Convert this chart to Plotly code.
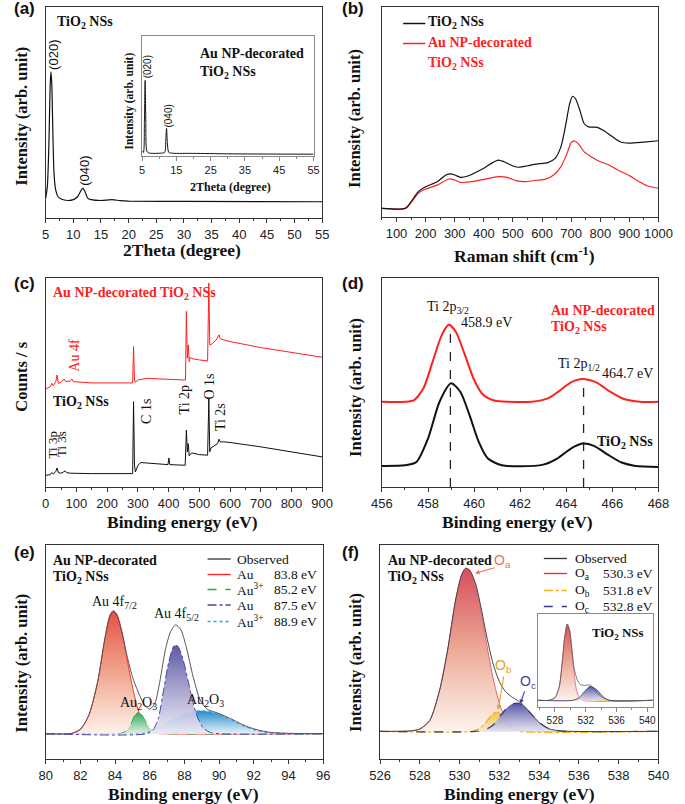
import plotly.graph_objects as go

W, H = 685, 804
SERIF = "Liberation Serif"
SANS = "Liberation Sans"

# ---------------- (a) XRD ----------------
a_2theta = [5.0, 5.3, 5.6, 5.8, 5.95, 6.1, 6.3, 6.5, 6.8, 7.2, 7.8, 9.0, 10.0, 10.8, 11.3, 11.7, 12.1, 12.6, 13.2, 15, 17, 18.5, 20, 30, 55]
a_int = [9.4, 15.0, 37.0, 62.2, 69.3, 63.8, 40.2, 21.3, 13.4, 10.2, 9.0, 8.3, 8.7, 10.2, 12.6, 14.2, 12.6, 9.4, 8.7, 8.3, 8.7, 8.2, 8.0, 7.9, 7.7]
a_in_2theta = [5.0, 5.4, 5.7, 5.9, 6.1, 6.4, 7.0, 10.0, 11.6, 11.9, 12.15, 12.4, 12.8, 14, 20, 30, 55]
a_in_int = [4, 3, 30, 63, 30, 4, 2.5, 2.3, 3, 12, 23, 10, 3, 2.3, 2.2, 1.8, 1.5]

# ---------------- (b) Raman ----------------
b_shift_k = [50, 130, 150, 175, 200, 240, 270, 285, 300, 320, 345, 370, 400, 430, 450, 470, 500, 520, 550, 580, 620, 645, 665, 680, 695, 705, 715, 730, 745, 760, 790, 810, 840, 870, 900, 950, 1000]
b_tio2 = [4.1, 4.1, 7.3, 12.1, 14.4, 16.8, 20.0, 20.5, 20.0, 18.9, 19.5, 21.1, 23.2, 25.9, 27.1, 26.3, 24.3, 23.7, 24.4, 25.2, 25.9, 27.9, 33.5, 42.9, 54.0, 57.5, 56.3, 50.8, 44.4, 42.9, 42.7, 41.3, 38.4, 35.7, 35.2, 35.7, 36.3]
b_shift_r = [50, 130, 150, 175, 200, 240, 280, 300, 320, 360, 400, 450, 480, 510, 540, 580, 610, 640, 665, 685, 700, 712, 725, 745, 770, 800, 830, 860, 900, 930, 960, 1000]
b_au = [4.1, 4.1, 6.8, 11.3, 13.3, 15.2, 18.1, 17.6, 16.5, 16.8, 17.9, 19.2, 18.9, 17.3, 16.8, 17.5, 17.9, 20.0, 24.0, 30.0, 35.4, 36.2, 34.8, 31.0, 28.6, 26.3, 24.8, 22.4, 19.7, 17.1, 14.9, 13.7]

# ---------------- (c) XPS survey ----------------
c_be_k = [0, 15, 20, 25, 33, 37, 41, 50, 58, 63, 68, 80, 150, 283, 286, 289, 292, 300, 310, 350, 398, 401, 404, 454, 458, 461, 464, 467, 475, 500, 527, 531, 534, 538, 550, 560, 564, 568, 580, 600, 700, 800, 900]
c_tio2 = [5.6, 5.9, 6.9, 6.2, 7.5, 9.1, 6.9, 6.6, 7.2, 7.7, 6.9, 6.6, 6.4, 6.4, 40.8, 10.4, 7.2, 10.4, 11.7, 11.2, 10.7, 13.9, 10.7, 10.4, 27.2, 16.8, 20.8, 14.9, 16.3, 15.5, 15.2, 42.1, 16.8, 18.7, 19.7, 20.8, 22.9, 21.6, 21.6, 21.3, 19.2, 16.8, 14.4]
c_be_r = [0, 15, 20, 25, 33, 37, 41, 50, 60, 65, 80, 85, 90, 150, 283, 286, 289, 292, 300, 330, 450, 455, 458, 461, 464, 467, 470, 480, 500, 527, 531, 534, 540, 555, 564, 568, 580, 600, 700, 800, 900]
c_au = [46.9, 48.0, 49.6, 48.5, 50.4, 53.6, 49.6, 50.1, 51.7, 50.4, 50.7, 51.7, 50.4, 49.8, 49.8, 67.2, 51.2, 50.1, 51.2, 52.0, 51.2, 51.2, 84.0, 61.6, 68.0, 60.0, 61.9, 61.3, 60.8, 60.3, 97.6, 68.0, 68.3, 70.4, 72.8, 70.9, 70.4, 69.6, 66.7, 64.5, 62.1]

# ---------------- (d) Ti 2p ----------------
d_be_r = [456, 457, 457.4, 457.8, 458.2, 458.6, 458.9, 459.2, 459.6, 460.0, 460.4, 460.9, 461.5, 462.5, 463.2, 463.7, 464.2, 464.7, 465.3, 465.9, 466.5, 467.2, 468]
d_au = [40.8, 40.8, 41.6, 47.2, 60.0, 72.8, 77.6, 74.4, 63.2, 51.2, 44.0, 41.3, 40.8, 40.8, 42.4, 46.0, 50.1, 51.7, 50.1, 45.6, 42.1, 40.8, 40.8]
d_be_k = [456, 457, 457.5, 458.0, 458.5, 459.0, 459.4, 459.8, 460.2, 460.6, 461.2, 462.0, 463.0, 463.6, 464.2, 464.7, 465.2, 465.8, 466.4, 467, 468]
d_tio2 = [10.1, 10.4, 12.0, 23.2, 40.8, 49.6, 45.6, 34.4, 21.6, 13.6, 10.4, 9.9, 10.7, 13.6, 18.4, 20.8, 19.7, 15.5, 11.7, 10.1, 9.6]
d_peak_be = [458.97, 464.75]
d_peak_top = [77.6, 51.7]

# ---------------- (e) Au 4f ----------------
e_be_obs = [80, 81.5, 82, 82.5, 83, 83.4, 83.7, 83.9, 84.1, 84.4, 84.7, 85.0, 85.4, 85.7, 86.0, 86.3, 86.6, 86.9, 87.2, 87.5, 87.8, 88.1, 88.5, 88.9, 89.3, 89.8, 90.3, 90.8, 91.5, 92.3, 93.0, 94, 96]
e_obs = [0, 0.2, 2.2, 8.9, 24.4, 43.9, 54.7, 57.1, 55.5, 47.0, 36.1, 26.7, 18.2, 13.5, 11.5, 14.3, 25.2, 39.2, 47.7, 50.9, 48.5, 40.7, 26.7, 15.9, 11.5, 10.0, 8.4, 6.5, 3.7, 1.6, 0.6, 0.2, 0]
e_be_au0 = [80, 81.5, 82, 82.5, 83, 83.4, 83.7, 83.9, 84.1, 84.4, 84.7, 85.0, 85.3, 85.6, 85.9, 86.3, 86.8, 96]
e_au0 = [0, 0.2, 1.9, 8.9, 24.4, 43.9, 55.5, 57.5, 56.0, 47.7, 34.5, 22.1, 12.0, 5.8, 2.2, 0.3, 0, 0]
e_be_au3a = [80, 84.2, 84.6, 84.9, 85.1, 85.3, 85.5, 85.8, 86.1, 86.5, 87, 96]
e_au3a = [0, 0, 1.1, 4.2, 8.1, 10.0, 9.2, 5.3, 1.9, 0.3, 0, 0]
e_be_au0b = [80, 85.8, 86.2, 86.5, 86.8, 87.1, 87.4, 87.6, 87.9, 88.2, 88.5, 88.8, 89.1, 89.5, 90, 96]
e_au0b = [0, 0, 1.9, 7.3, 20.5, 33.7, 41.1, 41.1, 35.3, 25.2, 14.3, 6.8, 2.6, 0.6, 0, 0]
e_be_au3b = [80, 85.5, 86, 86.5, 87, 87.5, 88, 88.5, 88.9, 89.4, 90, 90.5, 91, 91.5, 92, 92.6, 93.5, 94.5, 96]
e_au3b = [0, 0, 0.9, 3.0, 5.3, 7.2, 9.2, 10.4, 10.7, 10.4, 9.2, 7.3, 5.3, 3.4, 1.9, 0.8, 0.2, 0, 0]
e_leg_names = ["Observed", "Au", "Au<sup>3+</sup>", "Au", "Au<sup>3+</sup>"]
e_leg_vals = ["", "83.8 eV", "85.2 eV", "87.5 eV", "88.9 eV"]

# ---------------- (f) O 1s ----------------
f_be_obs = [526, 527.5, 528.0, 528.5, 529.0, 529.4, 529.8, 530.1, 530.3, 530.5, 530.8, 531.1, 531.4, 531.7, 532.0, 532.3, 532.6, 532.9, 533.2, 533.6, 534.0, 534.5, 535.2, 540]
f_obs = [0, 0.2, 1.1, 5.1, 19.4, 38.1, 61.4, 73.1, 76.2, 75.4, 69.2, 56.8, 42.8, 31.1, 23.3, 18.7, 16.3, 14.5, 12.4, 8.2, 4.2, 1.2, 0.2, 0]
f_be_oa = [526, 527.5, 528.0, 528.5, 529.0, 529.4, 529.8, 530.1, 530.3, 530.5, 530.8, 531.1, 531.4, 531.7, 532.0, 532.3, 532.7, 533.2, 534, 540]
f_oa = [0, 0.2, 1.1, 5.1, 19.4, 38.1, 61.4, 73.1, 76.2, 75.4, 68.4, 55.2, 38.9, 24.1, 13.2, 6.2, 2.0, 0.3, 0, 0]
f_be_ob = [526, 530.6, 531.0, 531.3, 531.6, 531.85, 532.1, 532.4, 532.7, 533.0, 540]
f_ob = [0, 0, 1.4, 3.9, 7.6, 9.2, 7.8, 3.9, 1.1, 0, 0]
f_be_oc = [526, 530.8, 531.3, 531.7, 532.0, 532.3, 532.6, 532.9, 533.2, 533.6, 534.0, 534.4, 534.9, 535.5, 540]
f_oc = [0, 0, 0.8, 3.1, 6.7, 10.1, 12.6, 13.2, 12.1, 8.2, 4.2, 1.7, 0.3, 0, 0]
f_leg_names = ["Observed", "O<sub>a</sub>", "O<sub>b</sub>", "O<sub>c</sub>"]
f_leg_vals = ["", "530.3 eV", "531.8 eV", "532.8 eV"]

# inset (f): TiO2 NSs
fi_be_obs = [525.8, 527.2, 528.0, 528.55, 528.93, 529.27, 529.6, 529.9, 530.2, 530.5, 530.9, 531.3, 531.8, 532.5, 533.0, 533.6, 534.3, 535.1, 540.7]
fi_obs = [0, 0, 2.9, 14.4, 39.6, 68.3, 82, 75.5, 54, 34, 22, 17, 16, 16.5, 13, 7, 2.5, 0, 0]
fi_be_oa = [525.8, 527.2, 528.0, 528.55, 528.93, 529.27, 529.6, 529.9, 530.2, 530.5, 530.8, 531.16, 531.6, 540.7]
fi_oa = [0, 0, 2.9, 14.4, 39.6, 68.3, 82, 75.5, 54, 28.8, 10.8, 2.9, 0, 0]
fi_be_ob = [525.8, 530.7, 531.6, 532.2, 533.0, 533.8, 540.7]
fi_ob = [0, 0, 2.9, 4.3, 1.8, 0, 0]
fi_be_oc = [525.8, 530.3, 531.16, 531.8, 532.6, 533.5, 534.3, 535.1, 540.7]
fi_oc = [0, 0, 2.9, 9, 15.1, 10.8, 3.6, 0, 0]


def dx(x0, x1):
    return [x0 / W, x1 / W]


def dy(y0, y1):
    return [1 - y1 / H, 1 - y0 / H]


def xax(dom, rng, dtick, minor, anchor, tick0=None, size=13, lc="#333"):
    d = dict(domain=dom, range=rng, dtick=dtick, showline=True, mirror=True, linecolor=lc,
             linewidth=1, ticks="outside", ticklen=4, tickwidth=1, tickcolor=lc,
             showgrid=False, zeroline=False, anchor=anchor,
             tickfont=dict(family=SANS, size=size, color="#222"),
             minor=dict(dtick=minor, ticks="outside", ticklen=2, tickcolor=lc))
    if tick0 is not None:
        d["tick0"] = tick0
    return d


def yax(dom, rng, anchor, lc="#333"):
    return dict(domain=dom, range=rng, showline=True, mirror=True, linecolor=lc, linewidth=1,
                showticklabels=False, ticks="", showgrid=False, zeroline=False, anchor=anchor)


fig = go.Figure()


def line(x, y, xa, ya, color, width=1.2, dash="solid", shape="spline", fill=None, grad=None):
    kw = dict(x=x, y=y, mode="lines", xaxis=xa, yaxis=ya,
              line=dict(color=color, width=width, dash=dash, shape=shape, smoothing=0.7 if shape == "spline" else None),
              hoverinfo="skip")
    if fill:
        kw["fill"] = fill
        kw["fillgradient"] = dict(type="vertical", colorscale=grad)
    fig.add_trace(go.Scatter(**kw))


# (a)
line(a_2theta, a_int, "x", "y", "#111", 1.2)
line(a_in_2theta, a_in_int, "x2", "y2", "#111", 1.0)
# (b)
line(b_shift_r, b_au, "x3", "y3", "#ff2020", 1.2)
line(b_shift_k, b_tio2, "x3", "y3", "#111", 1.2)
# (c)
line(c_be_r, c_au, "x4", "y4", "#ff2020", 1.0, shape="linear")
line(c_be_k, c_tio2, "x4", "y4", "#111", 1.0, shape="linear")
# (d)
line(d_be_r, d_au, "x5", "y5", "#ff2020", 2.0)
line(d_be_k, d_tio2, "x5", "y5", "#111", 2.0)
for bx, top in zip(d_peak_be, d_peak_top):
    line([bx, bx], [0, top], "x5", "y5", "#222", 1.3, dash="dash", shape="linear")

# (e)
red_g = [[0, "rgba(253,240,232,0.9)"], [0.5, "rgba(240,160,135,0.95)"], [1, "rgba(228,80,70,1)"]]
grn_g = [[0, "rgba(225,242,228,0.9)"], [1, "rgba(45,170,90,1)"]]
blu_g = [[0, "rgba(232,242,250,0.9)"], [1, "rgba(35,140,205,1)"]]
pur_g = [[0, "rgba(236,234,246,0.9)"], [1, "rgba(95,90,165,1)"]]
line(e_be_au0, e_au0, "x6", "y6", "#ff3030", 1.0, fill="tozeroy", grad=red_g)
line(e_be_au3a, e_au3a, "x6", "y6", "#20b040", 1.0, dash="dash", fill="tozeroy", grad=grn_g)
line(e_be_au3b, e_au3b, "x6", "y6", "#20a8e8", 1.2, dash="dot", fill="tozeroy", grad=blu_g)
line(e_be_au0b, e_au0b, "x6", "y6", "#5040a0", 1.0, dash="dashdot", fill="tozeroy", grad=pur_g)
line(e_be_obs, e_obs, "x6", "y6", "#555", 1.0)

# (f)
oa_g = [[0, "rgba(252,242,236,0.9)"], [0.5, "rgba(236,165,145,0.95)"], [1, "rgba(214,78,92,1)"]]
ob_g = [[0, "rgba(250,236,205,0.9)"], [1, "rgba(245,195,60,1)"]]
oc_g = [[0, "rgba(228,228,242,0.9)"], [1, "rgba(85,85,165,1)"]]
line(f_be_oa, f_oa, "x7", "y7", "#e86070", 1.0, fill="tozeroy", grad=oa_g)
line(f_be_ob, f_ob, "x7", "y7", "#f0b020", 1.2, dash="dashdot", fill="tozeroy", grad=ob_g)
line(f_be_oc, f_oc, "x7", "y7", "#303890", 1.2, dash="dash", fill="tozeroy", grad=oc_g)
line(f_be_obs, f_obs, "x7", "y7", "#444", 1.0)
# inset (f)
line(fi_be_oa, fi_oa, "x8", "y8", "#e86070", 0.8, fill="tozeroy", grad=oa_g)
line(fi_be_ob, fi_ob, "x8", "y8", "#f0b020", 0.8, fill="tozeroy", grad=ob_g)
line(fi_be_oc, fi_oc, "x8", "y8", "#303890", 0.8, fill="tozeroy", grad=oc_g)
line(fi_be_obs, fi_obs, "x8", "y8", "#555", 0.8)

layout = dict(
    width=W, height=H, margin=dict(l=0, r=0, t=0, b=0), showlegend=False,
    paper_bgcolor="white", plot_bgcolor="white",
    xaxis=xax(dx(36, 323), [5, 55], 5, 2.5, "y"),
    yaxis=yax(dy(7, 218), [0, 100], "x"),
    xaxis2=xax(dx(136, 314), [5, 55], 10, 5, "y2", tick0=5, size=11, lc="#888"),
    yaxis2=yax(dy(36, 156), [0, 100], "x2", lc="#888"),
    xaxis3=xax(dx(385, 672), [50, 1000], 100, 50, "y3"),
    yaxis3=yax(dy(7, 217), [0, 100], "x3"),
    xaxis4=xax(dx(36, 323), [0, 900], 100, 50, "y4"),
    yaxis4=yax(dy(278, 487), [0, 100], "x4"),
    xaxis5=xax(dx(385, 672), [456, 468], 2, 1, "y5"),
    yaxis5=yax(dy(278, 487), [0, 100], "x5"),
    xaxis6=xax(dx(36, 324), [80, 96], 2, 1, "y6"),
    yaxis6=yax(dy(545, 759), [-11.8, 88.2], "x6"),
    xaxis7=xax(dx(383, 672), [526, 540], 2, 1, "y7"),
    yaxis7=yax(dy(545, 759), [-12.9, 87.1], "x7"),
    xaxis8=xax(dx(547, 666), [525.8, 540.7], 4, 2, "y8", tick0=528, size=10, lc="#888"),
    yaxis8=yax(dy(614, 707), [-7.2, 92.8], "x8", lc="#888"),
)
fig.update_layout(**layout)

ann = []
shapes = []


def T(x, y, s, size=14, color="#111", bold=False, fam=SERIF, anchor="left", angle=0):
    ann.append(dict(x=x / W, y=1 - y / H, xref="paper", yref="paper",
                    text=("<b>" + s + "</b>") if bold else s, showarrow=False,
                    xanchor=anchor, yanchor="middle", textangle=angle,
                    font=dict(family=fam, size=size, color=color)))


def legline(x0, x1, yy, color, dash="solid", width=1.3):
    shapes.append(dict(type="line", xref="paper", yref="paper", x0=x0 / W, x1=x1 / W,
                       y0=1 - yy / H, y1=1 - yy / H, line=dict(color=color, width=width, dash=dash)))


TIO2 = "TiO<sub>2</sub> NSs"
# panel letters
for lab, x, y in [("(a)", 1, 9), ("(b)", 341, 9), ("(c)", 1, 283), ("(d)", 341, 283), ("(e)", 1, 552), ("(f)", 341, 552)]:
    T(x, y, lab, 17, "#111", True, SANS)

# axis titles
XT = 17.5
T(177.5, 250, "2Theta (degree)", XT, bold=True, anchor="center")
T(10, 116, "Intensity (arb. unit)", 16.5, bold=True, anchor="center", angle=-90)
T(228, 187, "2Theta (degree)", 12, bold=True, anchor="center")
T(122, 101, "Intensity (arb. unit)", 11.5, bold=True, anchor="center", angle=-90)
T(532.5, 255, "Raman shift (cm<sup>-1</sup>)", XT, bold=True, anchor="center")
T(357, 118, "Intensity (arb. unit)", 16.5, bold=True, anchor="center", angle=-90)
T(178, 522, "Binding energy (eV)", XT, bold=True, anchor="center")
T(10, 377, "Counts / s", 16.5, bold=True, anchor="center", angle=-90)
T(526, 522, "Binding energy (eV)", XT, bold=True, anchor="center")
T(357, 387, "Intensity (arb. unit)", 16.5, bold=True, anchor="center", angle=-90)
T(179, 794, "Binding energy (eV)", XT, bold=True, anchor="center")
T(10, 663, "Intensity (arb. unit)", 16.5, bold=True, anchor="center", angle=-90)
T(527.5, 794, "Binding energy (eV)", XT, bold=True, anchor="center")
T(357, 662, "Intensity (arb. unit)", 16.5, bold=True, anchor="center", angle=-90)

# (a) labels
T(46, 23, TIO2, 14, bold=True)
T(44.5, 55, "(020)", 13, fam=SANS, anchor="center", angle=-90)
T(75.5, 171, "(040)", 13, fam=SANS, anchor="center", angle=-90)
T(194, 53, "Au NP-decorated", 14, bold=True)
T(194, 72, TIO2, 14, bold=True)
T(141.5, 67, "(020)", 10, fam=SANS, anchor="center", angle=-90)
T(162.5, 116, "(040)", 10, fam=SANS, anchor="center", angle=-90)

# (b) legend
legline(407, 430, 23.5, "#111", width=1.5)
legline(407, 430, 43.5, "#ff2020", width=1.5)
T(431, 23, TIO2, 14, bold=True)
T(431, 43, "Au NP-decorated", 14, "#ff2020", bold=True)
T(431, 63, TIO2, 14, "#ff2020", bold=True)

# (c) labels
T(41, 293, "Au NP-decorated " + TIO2, 14, "#ff2020", bold=True)
T(65, 355, "Au 4f", 14, "#ff2020", anchor="center", angle=-90)
T(41, 402, TIO2, 14, bold=True)
T(140, 411, "C 1s", 14, anchor="center", angle=-90)
T(181, 400, "Ti 2p", 14, anchor="center", angle=-90)
T(205, 387, "O 1s", 14, anchor="center", angle=-90)
T(217, 417, "Ti 2s", 14, anchor="center", angle=-90)
T(44, 445, "Ti 3p", 13, anchor="center", angle=-90)
T(52, 444, "Ti 3s", 13, anchor="center", angle=-90)

# (d) labels
T(454, 307, "Ti 2p<sub>3/2</sub>", 14, anchor="center")
T(465, 322, "458.9 eV", 14)
T(589, 364, "Ti 2p<sub>1/2</sub>", 14, anchor="center")
T(611, 373, "464.7 eV", 14)
T(558, 310, "Au NP-decorated", 14, "#ff2020", bold=True)
T(558, 327, TIO2, 14, "#ff2020", bold=True)
T(606, 442, TIO2, 14, bold=True)

# (e) labels
T(41, 560, "Au NP-decorated", 14, bold=True)
T(41, 577, TIO2, 14, bold=True)
T(107, 602, "Au 4f<sub>7/2</sub>", 14, anchor="center")
T(172, 614, "Au 4f<sub>5/2</sub>", 14, anchor="center")
T(132.5, 703, "Au<sub>2</sub>O<sub>3</sub>", 14, anchor="center")
T(202, 700, "Au<sub>2</sub>O<sub>3</sub>", 14, anchor="center")
e_leg_y = [559, 574.5, 589.5, 605, 621.5]
e_leg_col = ["#333", "#ff2020", "#20b040", "#5040a0", "#20a8e8"]
e_leg_dash = ["solid", "solid", "dash", "dashdot", "dot"]
for nm, vv, yy, cc, ds in zip(e_leg_names, e_leg_vals, e_leg_y, e_leg_col, e_leg_dash):
    legline(204, 228, yy, cc, ds)
    T(233, yy, nm, 13.5)
    if vv:
        T(271, yy, vv, 13.5)

# (f) labels
T(389, 560, "Au NP-decorated", 14, bold=True)
T(389, 577, TIO2, 14, bold=True)
T(630, 633, TIO2, 13, bold=True, anchor="center")
f_leg_y = [558.5, 573.5, 590.5, 606.5]
f_leg_col = ["#333", "#ff2020", "#f0b020", "#303890"]
f_leg_dash = ["solid", "solid", "dashdot", "dash"]
for nm, vv, yy, cc, ds in zip(f_leg_names, f_leg_vals, f_leg_y, f_leg_col, f_leg_dash):
    legline(553, 577, yy, cc, ds)
    T(583, yy, nm, 13.5)
    if vv:
        T(612, yy, vv, 13.5)

# (f) arrows and peak names
for txt, col, tx, ty, hx, hy, lx, ly in [
    ("O<sub>a</sub>", "#f07060", 531.83, 76.7, 530.78, 73.9, 532.15, 79.6),
    ("O<sub>b</sub>", "#e0a030", 532.23, 26.4, 531.94, 10.1, 532.23, 30.6),
    ("O<sub>c</sub>", "#4040a0", 533.29, 19.4, 533.05, 12.9, 533.45, 23.0),
]:
    ann.append(dict(x=hx, y=hy, ax=tx, ay=ty, xref="x7", yref="y7", axref="x7", ayref="y7",
                    text="", showarrow=True, arrowhead=2, arrowsize=0.8, arrowwidth=1.1, arrowcolor=col))
    ann.append(dict(x=lx, y=ly, xref="x7", yref="y7", text=txt, showarrow=False,
                    font=dict(family=SANS, size=14, color=col)))

fig.update_layout(annotations=ann, shapes=shapes)
fig.write_html("out.html", config={"displayModeBar": False},
               post_script="document.body.style.margin='0px';document.body.style.overflow='hidden';")
